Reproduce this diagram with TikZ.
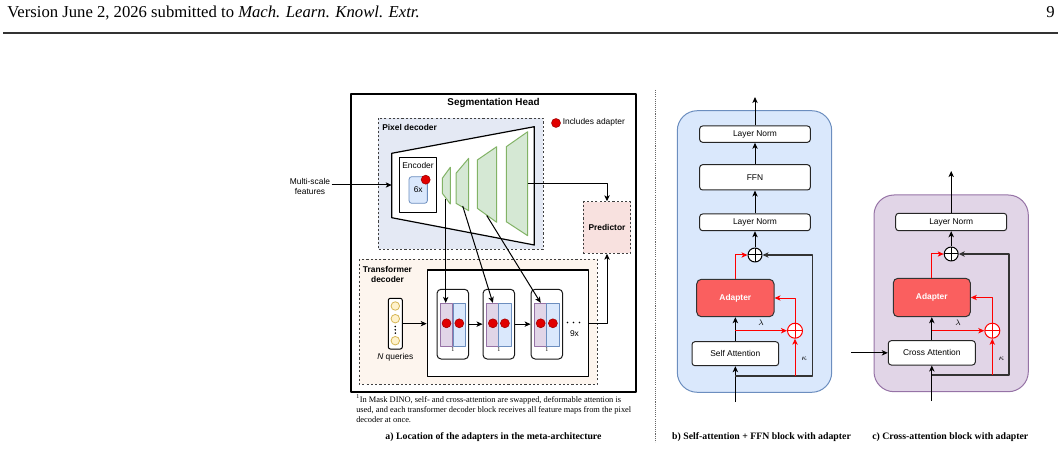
\documentclass[tikz,border=0pt]{standalone}
\usepackage{fontspec}
\setmainfont{Liberation Serif}
\setsansfont{Liberation Sans}
\usetikzlibrary{arrows.meta}

\definecolor{pixbg}{RGB}{228,233,244}
\definecolor{trbg}{RGB}{253,245,238}
\definecolor{predbg}{RGB}{248,225,223}
\definecolor{grfill}{RGB}{213,232,212}
\definecolor{grdraw}{RGB}{130,179,102}
\definecolor{safill}{RGB}{225,213,231}
\definecolor{sadraw}{RGB}{150,115,166}
\definecolor{cafill}{RGB}{218,232,252}
\definecolor{cadraw}{RGB}{108,142,191}
\definecolor{qfill}{RGB}{255,242,204}
\definecolor{qdraw}{RGB}{214,182,86}
\definecolor{dotred}{RGB}{225,0,0}
\definecolor{adapred}{RGB}{250,95,95}

\tikzset{
  arr/.style={-{Stealth[length=4.5pt,width=4pt,inset=1.2pt]}, line width=0.75pt},
  redarr/.style={arr, draw=red},
  wd/.style={minimum width=#1*0.75pt},
  ht/.style={minimum height=#1*0.75pt},
  lbl/.style={font=\sffamily\fontsize{6.3}{7.6}\selectfont},
  lblb/.style={font=\sffamily\bfseries\fontsize{6.3}{7.6}\selectfont},
  layerbox/.style={draw=black!85, fill=white, rounded corners=2.2pt, inner sep=0pt, line width=0.75pt, lbl},
  adapterbox/.style={draw=black!80, fill=adapred, rounded corners=3.5pt, inner sep=0pt, line width=0.75pt, text=white, lblb},
  addop/.style={circle, draw=#1, fill=white, minimum size=14*0.75pt, inner sep=0pt, line width=0.75pt,
    path picture={\draw[#1, line width=0.75pt] (path picture bounding box.north) -- (path picture bounding box.south)
      (path picture bounding box.west) -- (path picture bounding box.east);}},
  addop/.default=black,
  rdot/.style={circle, fill=dotred, draw=dotred!70!black, line width=0.4pt, minimum size=9*0.75pt, inner sep=0pt},
  qdot/.style={circle, fill=qfill, draw=qdraw, line width=0.6pt, minimum size=8.5*0.75pt, inner sep=0pt},
  grn/.style={draw=grdraw, fill=grfill, line width=0.75pt},
  tblk/.style={draw=black!90, fill=white, rounded corners=3pt, wd=31.5, ht=69.7, inner sep=0pt, line width=0.75pt},
  sastrip/.style={draw=sadraw, fill=safill, wd=12.4, ht=42.7, inner sep=0pt, line width=0.6pt},
  castrip/.style={draw=cadraw, fill=cafill, wd=12.4, ht=42.7, inner sep=0pt, line width=0.6pt},
  frame/.style={dash pattern=on 1.6pt off 1.6pt, draw=black!75, line width=0.6pt},
  residual/.style={arr, draw=black!80, line width=0.9pt},
  capt/.style={font=\bfseries\fontsize{7.35}{9}\selectfont}
}

\begin{document}
\begin{tikzpicture}[x=0.75pt, y=-0.75pt, line join=round]
\useasboundingbox (0,0) rectangle (1061,449);

% page header
\node[anchor=base west, inner sep=0, font=\fontsize{12.5}{15}\selectfont] (hdr) at (7,18)
  {Version June 2, 2026 submitted to \textit{Mach. Learn. Knowl. Extr.}};
\node[anchor=base east, inner sep=0, font=\fontsize{12.5}{15}\selectfont] (pgno) at (1055,18) {9};
\draw[line width=1.2pt, black!80] (3,33) -- (1058,33);

% a) segmentation head
\draw[line width=1pt] (351,94) rectangle (636,392);
\node[font=\sffamily\bfseries\fontsize{7.4}{9}\selectfont] (segtitle) at (493.5,103) {Segmentation Head};

\draw[frame, fill=pixbg] (378,118) rectangle (543,249.5);
\node[lblb, anchor=west, inner sep=0] (pixtitle) at (382,127.5) {Pixel decoder};
\node[rdot] (legdot) at (556,123) {};
\node[lbl, anchor=west, inner sep=0] (legtxt) at (562.5,122.5) {Includes adapter};

\draw[line width=0.9pt, fill=white] (391.7,153.3) -- (534.3,126.7) -- (534.3,245) -- (391.7,217.7) -- cycle;
\node[draw, line width=0.8pt, fill=white, wd=37.4, ht=55, inner sep=0] (enc) at (418,185.2) {};
\node[lbl] (enctxt) at (418,165) {Encoder};
\node[draw=cadraw, fill=cafill, rounded corners=2pt, wd=18.3, ht=26.6, inner sep=0, line width=0.6pt, lbl] (six) at (418.2,190) {6x};
\node[rdot] (encdot) at (425.7,179.7) {};

% feature maps
\draw[grn] (442.3,178.3) -- (450.3,167.3) -- (450.3,204) -- (442.3,193.3) -- cycle;
\draw[grn] (456,173.3) -- (468.7,158.3) -- (468.7,210.7) -- (456,203.3) -- cycle;
\draw[grn] (477.3,160) -- (496.7,146.7) -- (496.7,222.3) -- (477.3,208.3) -- cycle;
\draw[grn] (506.3,146.7) -- (527.7,131.7) -- (527.7,235.7) -- (506.3,221.7) -- cycle;
\coordinate (fm1) at (445.7,199);
\coordinate (fm2) at (462.7,206);
\coordinate (fm3) at (486.7,215.5);
\coordinate (fm4) at (527.7,183.3);
\coordinate (encin) at (391.7,185);

\node[lbl, align=center, inner sep=1pt] (msf) at (310,186.5) {Multi-scale\\features};
\draw[arr] (msf.east |- encin) -- (encin);

\node[frame, fill=predbg, wd=47.4, ht=51.6, lblb] (pred) at (607,227.5) {Predictor};
\draw[arr] (fm4) -| (pred.north);

% transformer decoder
\draw[frame, fill=trbg] (359.3,259.3) rectangle (597.3,384.3);
\node[lblb, align=center] (trtitle) at (387.5,274.5) {Transformer\\decoder};
\node[draw, line width=0.9pt, fill=white, wd=161, ht=106.7] (tdec) at (507.8,323.35) {};

\node[draw, rounded corners=1.5pt, fill=white, wd=14, ht=50.7, line width=0.75pt] (qry) at (395.3,323.65) {};
\foreach \yy [count=\i] in {306,318.7,340.7}
  \node[qdot] (q\i) at (395.3,\yy) {};
\foreach \yy in {326.5,329.8,333.1}
  \fill (395.3,\yy) circle (0.9);
\node[lbl] (qlbl) at (395.3,357.3) {\textit{N} queries};
\draw[arr] (qry.east) -- (qry.east -| tdec.west);

\foreach \n/\xx/\pp/\bb in {1/452.8/446.5/459.3, 2/498.8/492.85/504.9, 3/546.85/540.7/552.9} {
  \node[tblk] (blk\n) at (\xx,324.15) {};
  \node[sastrip] (sa\n) at (\pp,324.65) {};
  \node[castrip] (ca\n) at (\bb,324.65) {};
  \node[rdot] (sad\n) at (\pp,323.3) {};
  \node[rdot] (cad\n) at (\bb,323.3) {};
  \node[font=\fontsize{4.5}{5}\selectfont, inner sep=0] (fn\n) at (\xx,349.5) {1};
}
\draw[arr] (blk1) -- (blk2);
\draw[arr] (blk2) -- (blk3);
\foreach \xx in {567.5,573.5,579.5}
  \fill (\xx,322.5) circle (0.9);
\node[lbl] (nine) at (574.5,334) {9x};
\draw[arr] (tdec.east) -| (pred.south);

\draw[arr] (fm1) -- (fm1 |- sa1.north);
\draw[arr] (fm2) -- (sa2.north);
\draw[arr] (fm3) -- (sa3.north);

\node[anchor=north west, align=left, inner sep=0, font=\fontsize{6.3}{7.7}\selectfont] (fnote) at (356,394.5)
  {\textsuperscript{1}In Mask DINO, self- and cross-attention are swapped, deformable attention is\\
   used, and each transformer decoder block receives all feature maps from the pixel\\
   decoder at once.};
\node[capt] (capa) at (493.5,437) {a) Location of the adapters in the meta-architecture};

\draw[black!60, line width=0.7pt, dash pattern=on 0.8pt off 0.8pt] (655.7,90) -- (655.7,442);

% b) self-attention + FFN block
\draw[draw=cadraw, fill=cafill, rounded corners=15pt, line width=0.75pt] (677.3,110.7) rectangle (831.7,392.3);
\node[layerbox, wd=110.7, ht=16.3] (normtopb) at (755,134.15) {Layer Norm};
\node[layerbox, wd=110.7, ht=25.3] (ffnb) at (755,177.35) {FFN};
\node[layerbox, wd=110.7, ht=16.7] (normb) at (755,222.35) {Layer Norm};
\node[addop] (sumb) at (755,255) {};
\node[adapterbox, wd=77.3, ht=37.4] (adapb) at (735.35,298) {Adapter};
\node[layerbox, wd=86.7, ht=24] (attb) at (735.35,353.7) {Self Attention};
\node[addop=red, minimum size=15*0.75pt] (rsumb) at (795,330.7) {};
\coordinate (outb) at (755,97);
\coordinate (inb) at (735.35,402);
\coordinate (resb) at (735.35,376);
\coordinate (resbr) at (812.7,376);
\coordinate (lamb) at (735.35,330.7);
\coordinate (kapb) at (795,376);

\draw[arr] (inb) -- (attb);
\draw[arr] (attb) -- (adapb);
\draw[arr] (sumb) -- (normb);
\draw[arr] (normb) -- (ffnb);
\draw[arr] (ffnb) -- (normtopb);
\draw[arr] (normtopb) -- (outb);
\draw[residual] (resb) -- (resbr) |- (sumb.east);
\draw[redarr] (adapb.north) |- (sumb.west);
\draw[redarr] (lamb) -- (rsumb) node[midway, above=0.5pt, lbl] {$\lambda$};
\draw[redarr] (rsumb.north) |- (adapb.east);
\draw[redarr] (kapb) -- (rsumb) node[pos=0.45, right=1pt, lbl] {$\kappa$};
\node[capt] (capb) at (761.5,437) {b) Self-attention + FFN block with adapter};

% c) cross-attention block
\draw[draw=sadraw, fill=safill, rounded corners=15pt, line width=0.75pt] (874,195) rectangle (1028.3,391.7);
\node[layerbox, wd=111, ht=17.4] (normc) at (951.2,222) {Layer Norm};
\node[addop] (sumc) at (951.2,254) {};
\node[adapterbox, wd=77, ht=38.4] (adapc) at (931.8,297.5) {Adapter};
\node[layerbox, wd=87, ht=24.3] (attc) at (931.8,352.85) {Cross Attention};
\node[addop=red, minimum size=15*0.75pt] (rsumc) at (992.3,330.7) {};
\coordinate (outc) at (951.2,171);
\coordinate (inc) at (931.8,401);
\coordinate (xinc) at (851,352.85);
\coordinate (resc) at (931.8,375);
\coordinate (rescr) at (1009,375);
\coordinate (lamc) at (931.8,330.7);
\coordinate (kapc) at (992.3,375);

\draw[arr] (inc) -- (attc);
\draw[arr] (xinc) -- (attc.west);
\draw[arr] (attc) -- (adapc);
\draw[arr] (sumc) -- (normc);
\draw[arr] (normc) -- (outc);
\draw[residual] (resc) -- (rescr) |- (sumc.east);
\draw[redarr] (adapc.north) |- (sumc.west);
\draw[redarr] (lamc) -- (rsumc) node[midway, above=0.5pt, lbl] {$\lambda$};
\draw[redarr] (rsumc.north) |- (adapc.east);
\draw[redarr] (kapc) -- (rsumc) node[pos=0.45, right=1pt, lbl] {$\kappa$};
\node[capt] (capc) at (950.3,437) {c) Cross-attention block with adapter};

\end{tikzpicture}
\end{document}
